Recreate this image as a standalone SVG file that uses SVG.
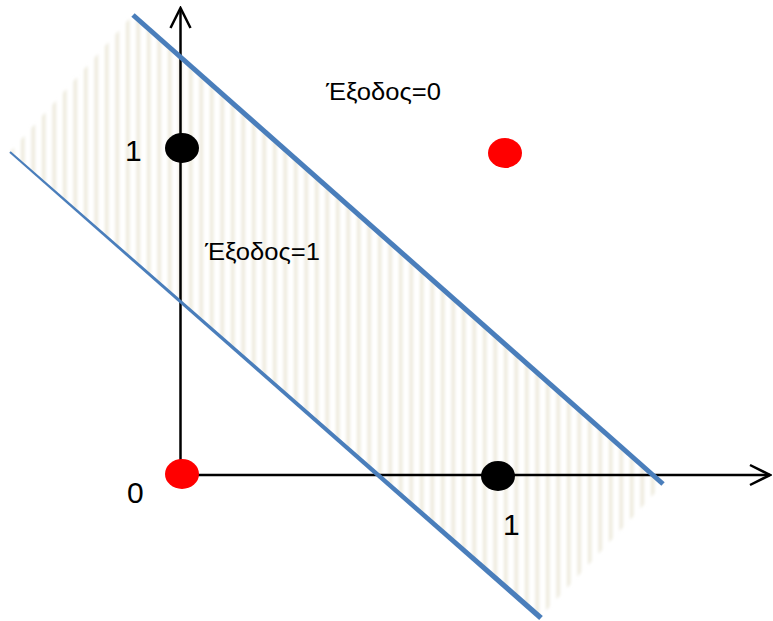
<svg xmlns="http://www.w3.org/2000/svg" width="773" height="621" viewBox="0 0 773 621">
<defs>
<pattern id="vstripes" patternUnits="userSpaceOnUse" width="10.5" height="10">
<rect x="0" y="0" width="3.5" height="10" fill="#EDEADD"/>
</pattern>
<marker id="chev" viewBox="0 0 24 24" refX="22" refY="12" markerWidth="24" markerHeight="24" markerUnits="userSpaceOnUse" orient="auto">
<path d="M2,2 L22,12 L2,22" fill="none" stroke="#000" stroke-width="2.5"/>
</marker>
<filter id="soft" x="-5%" y="-5%" width="110%" height="110%"><feGaussianBlur stdDeviation="1.5"/></filter>
</defs>
<style>
.axis{stroke:#000;stroke-width:2.5;fill:none}
.blue{stroke:#4A7EBB;fill:none;stroke-linecap:butt}
.lbl{font-family:"Liberation Sans",Arial,sans-serif;fill:#000}
.num{font-size:30px}
.out{font-size:24px}
</style>
<rect width="773" height="621" fill="#fff"/>
<g id="band">
<polygon points="10,152 133,15 663,484 540,617" fill="url(#vstripes)" filter="url(#soft)"/>
</g>
<g id="connectors">
<line class="axis" x1="180.5" y1="475" x2="180.5" y2="8" marker-end="url(#chev)"/>
<line class="axis" x1="180" y1="475" x2="770" y2="475" marker-end="url(#chev)"/>
<line class="blue" x1="133" y1="15" x2="663" y2="484" stroke-width="5"/>
<polygon points="10.7,151.2 542.8,616 539.2,620 9.3,152.8" fill="#4A7EBB"/>
</g>
<g id="p01"><ellipse cx="182" cy="148" rx="17" ry="15" fill="#000"/></g>
<g id="p11"><ellipse cx="505" cy="153" rx="17" ry="15" fill="#FF0000"/></g>
<g id="p00"><ellipse cx="182" cy="474" rx="17" ry="15" fill="#FF0000"/></g>
<g id="p10"><ellipse cx="498" cy="476" rx="17" ry="15" fill="#000"/></g>
<g id="labels">
<text class="lbl num" x="125" y="161">1</text>
<text class="lbl num" x="127" y="503">0</text>
<text class="lbl num" x="503" y="535">1</text>
<text class="lbl out" x="326" y="100" textLength="115" lengthAdjust="spacingAndGlyphs">Έξοδος=0</text>
<text class="lbl out" x="205" y="260" textLength="115" lengthAdjust="spacingAndGlyphs">Έξοδος=1</text>
</g>
</svg>
